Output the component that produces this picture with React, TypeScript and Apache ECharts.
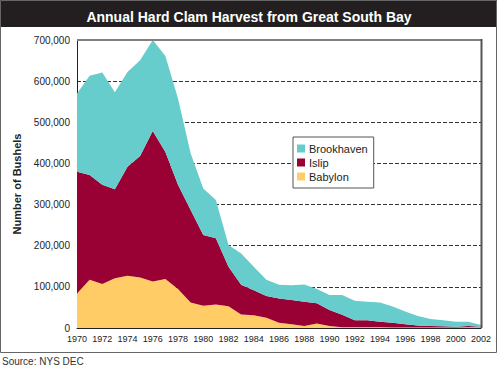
import React, { useEffect, useRef } from "react";
import * as echarts from "echarts";

const years = ["1970","1971","1972","1973","1974","1975","1976","1977","1978","1979","1980","1981","1982","1983","1984","1985","1986","1987","1988","1989","1990","1991","1992","1993","1994","1995","1996","1997","1998","1999","2000","2001","2002"];

const babylon = [84000,117000,107000,121000,127000,123000,113000,119000,95000,62000,54000,57000,53000,33000,31000,25000,13000,9000,5000,11000,5000,2000,2000,2000,2000,1000,1000,1000,1000,1000,1000,2000,2000];
const islip = [296000,255000,241000,216000,265000,295000,366000,309000,253000,225000,172000,161000,96000,72000,61000,53000,59000,59000,59000,49000,39000,30000,17000,17000,13000,12000,8000,5000,4000,3000,2000,3000,1000];
const brookhaven = [190000,241000,273000,236000,230000,233000,221000,233000,210000,138000,113000,93000,53000,76000,57000,39000,33000,36000,42000,35000,36000,48000,47000,45000,47000,39000,31000,23000,17000,15000,12000,10000,4000];

const FONT = 'Arial, "Liberation Sans", Helvetica, sans-serif';

export default function App() {
  const ref = useRef<HTMLDivElement>(null);
  useEffect(() => {
    document.body.style.margin = "0";
    const chart = echarts.init(ref.current!, undefined, { renderer: "svg" });
    const area = (name: string, data: number[], color: string) => ({
      name,
      type: "line",
      stack: "total",
      data,
      symbol: "none",
      lineStyle: { width: 0 },
      itemStyle: { color },
      areaStyle: { color, opacity: 1 },
    });
    chart.setOption({
      animation: false,
      backgroundColor: "#ffffff",
      textStyle: { fontFamily: FONT },
      title: {
        text: "Annual Hard Clam Harvest from Great South Bay",
        left: "center",
        top: 5,
        z: 10,
        textStyle: { color: "#ffffff", fontSize: 14, fontWeight: "bold", fontFamily: FONT },
      },
      graphic: [
        { type: "rect", z: 1, shape: { x: 0, y: 0, width: 497, height: 27 }, style: { fill: "#231f20" } },
        { type: "rect", z: 1, shape: { x: 0.5, y: 0.5, width: 496, height: 352 }, style: { fill: "none", stroke: "#666", lineWidth: 1 } },
        { type: "line", z: 100, shape: { x1: 77, y1: 40, x2: 482, y2: 40 }, style: { stroke: "#808080", lineWidth: 2 } },
        { type: "line", z: 100, shape: { x1: 481.5, y1: 39, x2: 481.5, y2: 328 }, style: { stroke: "#555", lineWidth: 2 } },
        { type: "text", z: 10, left: 2, top: 356, style: { text: "Source: NYS DEC", fill: "#333", font: `10px ${FONT}` } },
      ],
      legend: {
        data: ["Brookhaven", "Islip", "Babylon"],
        orient: "vertical",
        left: 293,
        top: 137,
        icon: "rect",
        itemWidth: 8,
        itemHeight: 8,
        itemGap: 3,
        padding: [6, 6, 6, 4],
        backgroundColor: "#ffffff",
        borderColor: "#555",
        borderWidth: 1,
        textStyle: { fontSize: 11, color: "#222", fontFamily: FONT, padding: [0, 0, 0, -1] },
      },
      grid: { left: 77, top: 40, width: 404, height: 288, containLabel: false },
      xAxis: {
        type: "category",
        data: years,
        boundaryGap: false,
        axisLine: { lineStyle: { color: "#222", width: 1 } },
        axisTick: { show: false },
        axisLabel: { interval: 1, color: "#222", fontSize: 9, margin: 6, fontFamily: FONT },
        splitLine: { show: false },
      },
      yAxis: {
        type: "value",
        min: 0,
        max: 700000,
        interval: 100000,
        name: "Number of Bushels",
        nameLocation: "middle",
        nameGap: 53,
        nameTextStyle: { fontSize: 11, fontWeight: "bold", color: "#222", fontFamily: FONT },
        axisLine: { show: true, lineStyle: { color: "#222", width: 1 } },
        axisTick: { show: false },
        axisLabel: {
          color: "#222",
          fontSize: 10,
          margin: 7,
          fontFamily: FONT,
          formatter: (v: number) => v.toLocaleString("en-US"),
        },
        splitLine: { show: true, lineStyle: { color: "#333", type: [4, 2], width: 1 } },
      },
      series: [
        area("Babylon", babylon, "#ffcc66"),
        area("Islip", islip, "#990033"),
        area("Brookhaven", brookhaven, "#66cccc"),
      ],
    });
    return () => chart.dispose();
  }, []);
  return <div ref={ref} style={{ width: 498, height: 370 }} />;
}
